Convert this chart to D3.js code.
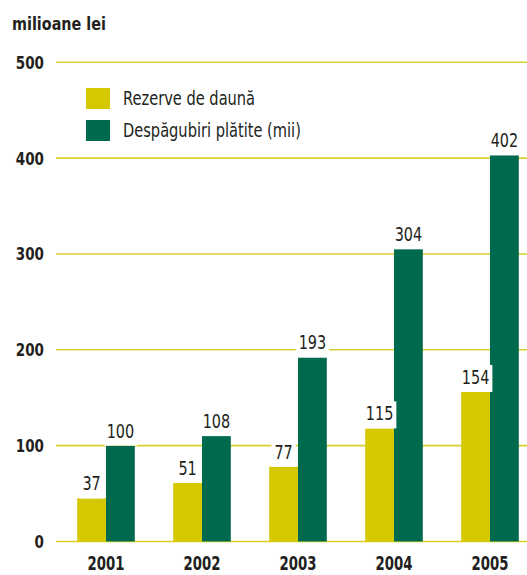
<!DOCTYPE html>
<html lang="ro">
<head>
<meta charset="UTF-8">
<title>Rezerve de daună și despăgubiri plătite</title>
<script src="https://d3js.org/d3.v7.min.js"></script>
<style>
  body { margin: 0; background: #fff; }
  svg text { font-family: "DejaVu Sans", sans-serif; fill: #231f20; }
  .tick-lbl { font-weight: bold; font-size: 18px; }
  .val { font-size: 19px; }
  .legend text { font-size: 19px; }
</style>
</head>
<body>
<div id="chart"></div>
<script>
// data
const years = ["2001", "2002", "2003", "2004", "2005"];
const series = ["Rezerve de daună", "Despăgubiri plătite (mii)"];
// bar heights as drawn in the picture
const rezerve = [45, 61, 78, 118, 156];
const despagubiri = [100, 110, 192, 305, 403];
// printed value labels
const rezerveLabels = ["37", "51", "77", "115", "154"];
const despagubiriLabels = ["100", "108", "193", "304", "402"];
const yTicks = [0, 100, 200, 300, 400, 500];

const width = 527, height = 575;
const colors = ["#d5c800", "#006a4e"];

// the original uses a condensed face, so squeeze text horizontally
const squeeze = (sx) => (x0, y0) => `translate(${x0},${y0}) scale(${sx},1)`;

const svg = d3.select("#chart").append("svg")
    .attr("width", width)
    .attr("height", height);

const x = d3.scaleBand()
    .domain(years)
    .range([58, 538])
    .paddingInner(0.4)
    .paddingOuter(0.2);

const xSub = d3.scaleBand()
    .domain(series)
    .range([0, x.bandwidth()]);

const y = d3.scaleLinear()
    .domain([0, 500])
    .range([541.5, 62.3]);

// gridlines
svg.append("g").selectAll("line")
    .data(yTicks)
    .join("line")
    .attr("x1", 56)
    .attr("x2", width)
    .attr("y1", d => y(d))
    .attr("y2", d => y(d))
    .attr("stroke", "#d9cf2a")
    .attr("stroke-width", 1.6);

// y axis labels
svg.append("g").selectAll("text")
    .data(yTicks)
    .join("text")
    .attr("class", "tick-lbl")
    .attr("transform", d => squeeze(0.75)(44, y(d)))
    .attr("dy", "0.36em")
    .attr("text-anchor", "end")
    .text(d => d);

// x axis labels
svg.append("g").selectAll("text")
    .data(years)
    .join("text")
    .attr("class", "tick-lbl")
    .attr("transform", d => squeeze(0.7)(x(d) + x.bandwidth() / 2, 570))
    .attr("text-anchor", "middle")
    .style("font-size", "19px")
    .text(d => d);

// title
svg.append("text")
    .attr("transform", squeeze(0.8)(12, 30))
    .style("font-weight", "bold")
    .style("font-size", "18px")
    .text("milioane lei");

const rows = years.map((yr, i) => [
    {year: yr, s: series[0], v: rezerve[i], lbl: rezerveLabels[i], c: colors[0]},
    {year: yr, s: series[1], v: despagubiri[i], lbl: despagubiriLabels[i], c: colors[1]}
]).flat();

// bars
svg.append("g").selectAll("rect")
    .data(rows)
    .join("rect")
    .attr("x", d => x(d.year) + xSub(d.s))
    .attr("y", d => y(d.v))
    .attr("width", xSub.bandwidth())
    .attr("height", d => y(0) - y(d.v))
    .attr("fill", d => d.c);

// value labels with white boxes
const sqVal = 0.76;
const lbls = svg.append("g").selectAll("g")
    .data(rows)
    .join("g")
    .attr("transform", d => `translate(${x(d.year) + xSub(d.s) + xSub.bandwidth() / 2},${y(d.v) - 8})`);

lbls.append("text")
    .attr("class", "val")
    .attr("text-anchor", "middle")
    .attr("transform", `scale(${sqVal},1)`)
    .text(d => d.lbl);

lbls.each(function() {
    const g = d3.select(this);
    const bb = g.select("text").node().getBBox();
    const w = bb.width * sqVal;
    g.insert("rect", "text")
        .attr("x", -w / 2 - 3)
        .attr("y", bb.y - 1)
        .attr("width", w + 6)
        .attr("height", 8 + (-bb.y) + 1)
        .attr("fill", "#fff");
});

// legend
const legend = svg.append("g").attr("class", "legend");
series.forEach((s, i) => {
    legend.append("rect")
        .attr("x", 86)
        .attr("y", 88 + i * 32)
        .attr("width", 24)
        .attr("height", 21)
        .attr("fill", colors[i]);
    legend.append("text")
        .attr("transform", squeeze(0.77)(123, 105 + i * 32))
        .text(s);
});
</script>
</body>
</html>
